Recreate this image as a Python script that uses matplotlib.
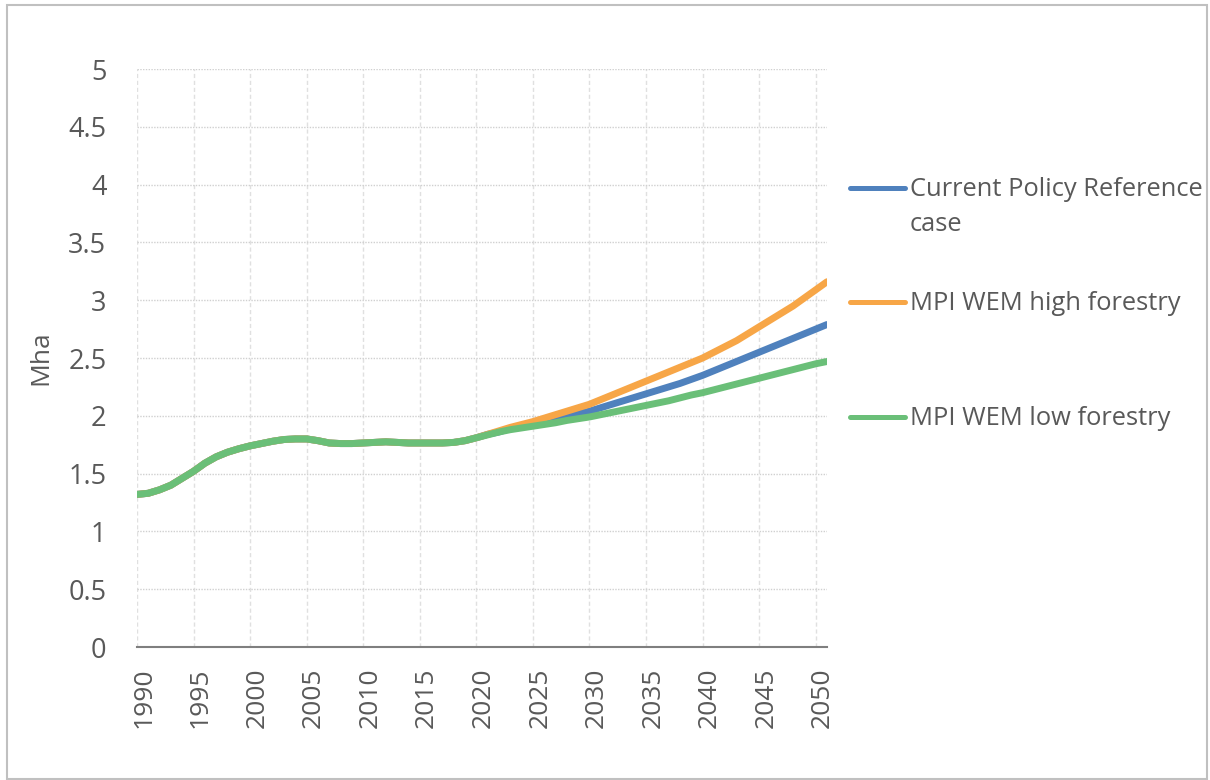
import matplotlib
matplotlib.use("Agg")
import matplotlib.pyplot as plt
from matplotlib.lines import Line2D
from matplotlib.patches import Rectangle
from matplotlib.transforms import ScaledTranslation

plt.rcParams['font.family'] = ['Open Sans', 'DejaVu Sans']

# years 1990..2051 (category axis in the original)
years = list(range(1990, 2052))

# shared history 1990-2020 (Mha)
history = [1.32, 1.33, 1.36, 1.40, 1.46, 1.52, 1.59, 1.645, 1.685, 1.715,
           1.74, 1.76, 1.78, 1.795, 1.80, 1.80, 1.785, 1.765, 1.76, 1.76,
           1.765, 1.77, 1.775, 1.77, 1.765, 1.765, 1.765, 1.765, 1.77, 1.785,
           1.81]

# projections 2021-2051
ref_proj = [1.84, 1.86, 1.89, 1.91, 1.93, 1.95, 1.97, 1.995, 2.02, 2.04,
            2.07, 2.10, 2.13, 2.16, 2.19, 2.22, 2.25, 2.28, 2.315, 2.35,
            2.39, 2.43, 2.47, 2.51, 2.55, 2.59, 2.63, 2.67, 2.71, 2.75,
            2.79]
high_proj = [1.84, 1.87, 1.90, 1.925, 1.95, 1.98, 2.01, 2.04, 2.07, 2.10,
             2.14, 2.18, 2.22, 2.26, 2.30, 2.34, 2.38, 2.42, 2.46, 2.50,
             2.55, 2.60, 2.65, 2.71, 2.77, 2.83, 2.89, 2.95, 3.02, 3.09,
             3.16]
low_proj = [1.835, 1.86, 1.88, 1.895, 1.91, 1.925, 1.94, 1.96, 1.975, 1.99,
            2.01, 2.03, 2.05, 2.07, 2.09, 2.11, 2.13, 2.155, 2.18, 2.20,
            2.225, 2.25, 2.275, 2.30, 2.325, 2.35, 2.375, 2.40, 2.425, 2.45,
            2.47]

labels = ["Current Policy Reference\ncase", "MPI WEM high forestry", "MPI WEM low forestry"]
colors = ["#4F81BD", "#F7A647", "#6ABF78"]
series = [history + ref_proj, history + high_proj, history + low_proj]

fig = plt.figure(figsize=(12.1, 7.8), dpi=100)
ax = fig.add_axes([0.1132, 0.1705, 0.5703, 0.741])

for vals, c in zip(series, colors):
    ax.plot(years, vals, color=c, lw=5, solid_capstyle='round', solid_joinstyle='round')

ax.set_xlim(1990, 2051)
ax.set_ylim(0, 5)
ax.set_yticks([0, 0.5, 1, 1.5, 2, 2.5, 3, 3.5, 4, 4.5, 5])
ax.set_yticklabels(["0", "0.5", "1", "1.5", "2", "2.5", "3", "3.5", "4", "4.5", "5"])
ax.set_xticks(list(range(1990, 2051, 5)))
ax.set_xticklabels([str(y) for y in range(1990, 2051, 5)], rotation=90, va='top', ha='center')

ax.grid(True, axis='y', color='#d0d0d0', linestyle=(0, (1, 1)), lw=1)
ax.grid(True, axis='x', color='#e0e0e0', linestyle=(0, (3, 2)), lw=1)
ax.set_axisbelow(True)

for s in ['top', 'right', 'left']:
    ax.spines[s].set_visible(False)
ax.spines['bottom'].set_color('#7f7f7f')
ax.spines['bottom'].set_linewidth(1.5)
ax.tick_params(axis='y', length=0, pad=22, labelsize=19.5, labelcolor='#595959')
ax.tick_params(axis='x', length=0, pad=15, labelsize=19, labelcolor='#595959')
for lab in ax.get_xticklabels():
    lab.set_transform(lab.get_transform() + ScaledTranslation(5 / 72, 0, fig.dpi_scale_trans))

ax.set_ylabel("Mha", fontsize=19, color='#595959', labelpad=11)

# legend, drawn the Excel way: handle level with the first text line
leg_y = [188, 302, 417]
for lab, c, yp in zip(labels, colors, leg_y):
    yf = 1 - yp / 780
    fig.add_artist(Line2D([850 / 1210, 905 / 1210], [yf, yf], color=c, lw=3.6,
                          solid_capstyle='round', transform=fig.transFigure))
    fig.text(910 / 1210, yf + 11 / 780, lab, fontsize=18.4, color='#595959',
             va='top', ha='left', linespacing=1.55)

# light chart border
fig.add_artist(Rectangle((7 / 1210, 1 / 780), 1200 / 1210, 774 / 780, fill=False,
                         edgecolor='#c0c0c0', lw=1.5, transform=fig.transFigure))

fig.savefig("out.png", dpi=100)
